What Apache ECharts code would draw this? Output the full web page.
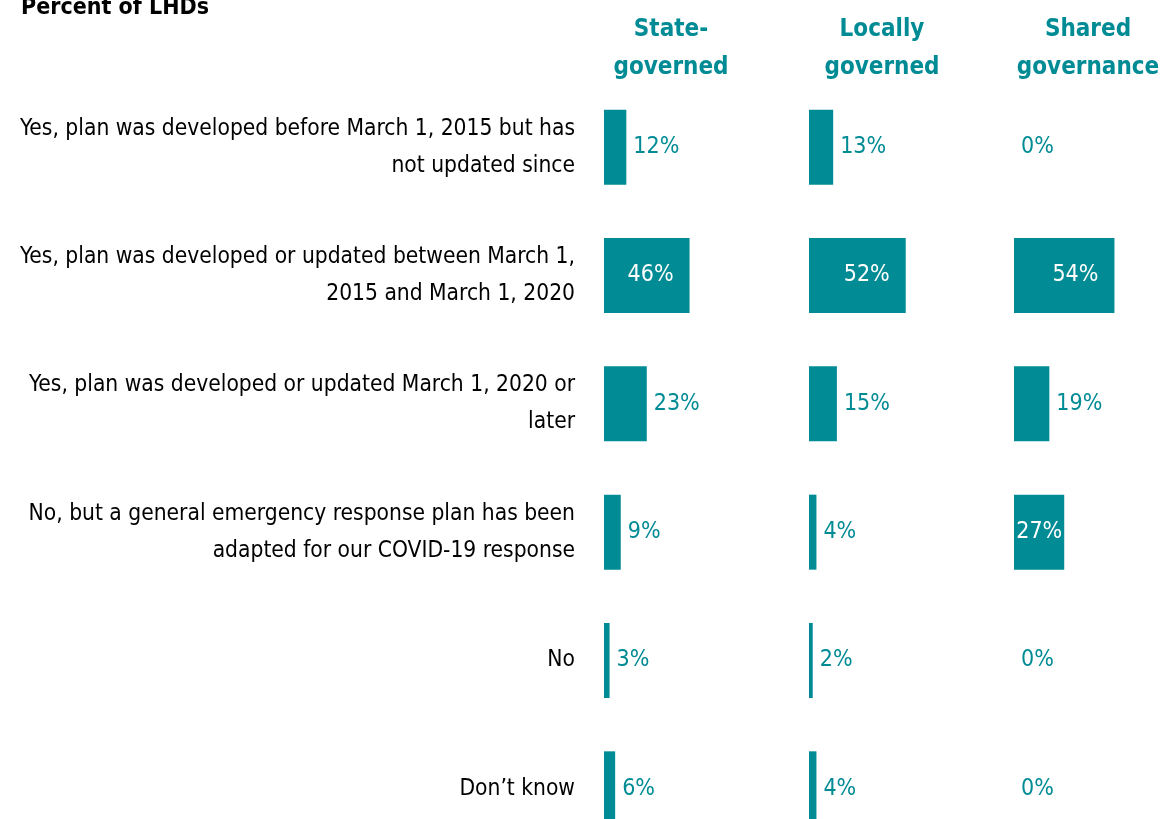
<!DOCTYPE html>
<html>
<head>
<meta charset="utf-8">
<script src="https://cdn.jsdelivr.net/npm/echarts@6/dist/echarts.min.js"></script>
<style>
  html, body { margin: 0; padding: 0; background: #fff; }
  #chart { width: 1161px; height: 819px; }
</style>
</head>
<body>
<div id="chart"></div>
<script>
// response categories (top to bottom)
const categories = [
  'Yes, plan was developed before March 1, 2015 but has\nnot updated since',
  'Yes, plan was developed or updated between March 1,\n2015 and March 1, 2020',
  'Yes, plan was developed or updated March 1, 2020 or\nlater',
  'No, but a general emergency response plan has been\nadapted for our COVID-19 response',
  'No',
  'Don\u2019t know'
];
// percent of LHDs by governance type
const stateGoverned = [12, 46, 23, 9, 3, 6];
const locallyGoverned = [13, 52, 15, 4, 2, 4];
const sharedGovernance = [0, 54, 19, 27, 0, 0];
const panelTitles = ['State-\ngoverned', 'Locally\ngoverned', 'Shared\ngovernance'];

const teal = '#008B95';
const font = '"Liberation Sans Narrow", "DejaVu Sans Condensed", sans-serif';
const panelLeft = [604, 809, 1014];
const panelWidth = 186;

function barData(vals) {
  return vals.map(v => {
    let label;
    if (v >= 40) {
      label = { position: 'insideRight', distance: 16, color: '#fff' };
    } else if (v >= 25) {
      label = { position: 'insideRight', distance: 2, color: '#fff' };
    } else {
      label = { position: 'right', distance: 7, color: teal };
    }
    return { value: v, label: label };
  });
}

let chart = echarts.init(document.getElementById('chart'));
let allVals = [stateGoverned, locallyGoverned, sharedGovernance];

let option = {
  backgroundColor: '#fff',
  animation: false,
  title: [
    {
      text: 'Percent of LHDs',
      left: 16, top: -8,
      textStyle: { fontFamily: font, fontSize: 23, fontWeight: 'bold', color: '#000' }
    }
  ].concat(panelTitles.map((t, i) => ({
    text: t,
    left: [666, 877, 1083][i], top: 6,
    textAlign: 'center',
    textStyle: { fontFamily: font, fontSize: 24, fontWeight: 'bold', color: teal, lineHeight: 38 }
  }))),
  grid: panelLeft.map(l => ({
    left: l, width: panelWidth, top: 83, height: 770,
    outerBoundsMode: 'none', containLabel: false
  })),
  xAxis: panelLeft.map((l, i) => ({
    gridIndex: i, type: 'value', min: 0, max: 100, show: false
  })),
  yAxis: panelLeft.map((l, i) => ({
    gridIndex: i,
    type: 'category',
    inverse: true,
    data: categories,
    axisLine: { show: false },
    axisTick: { show: false },
    splitLine: { show: false },
    axisLabel: {
      show: i === 0,
      margin: 29,
      align: 'right',
      fontFamily: font,
      fontSize: 22.6,
      lineHeight: 37,
      color: '#000'
    }
  })),
  series: allVals.map((vals, i) => ({
    type: 'bar',
    xAxisIndex: i,
    yAxisIndex: i,
    barWidth: 75,
    itemStyle: { color: teal },
    label: {
      show: true,
      formatter: '{c}%',
      fontFamily: font,
      fontSize: 23
    },
    data: barData(vals)
  }))
};

option && chart.setOption(option);
</script>
</body>
</html>
